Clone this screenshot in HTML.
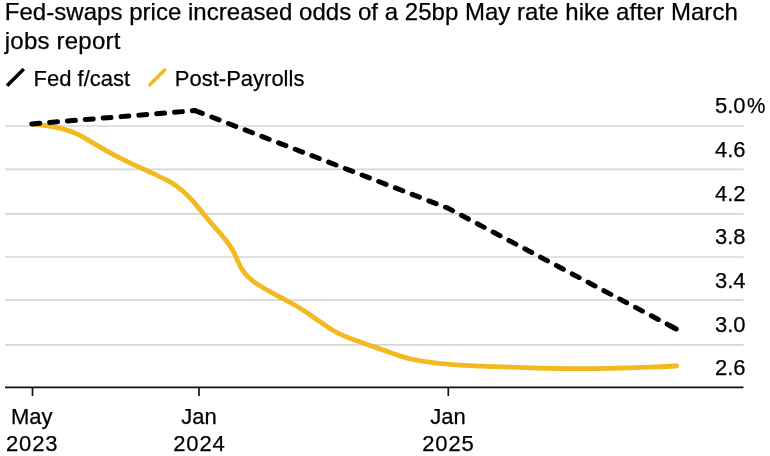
<!DOCTYPE html>
<html><head><meta charset="utf-8">
<style>
html,body{margin:0;padding:0;background:#fff;}
body{width:770px;height:456px;overflow:hidden;position:relative;font-family:"Liberation Sans",Arial,sans-serif;color:#000;}
.t{position:absolute;white-space:nowrap;line-height:1;-webkit-text-stroke:0.25px #000;}
#title1,#title2{left:4.8px;font-size:24px;letter-spacing:0.03px;}
#title1{top:0.1px;}
#title2{top:29.4px;letter-spacing:0.22px;}
.lg{font-size:22px;top:67.5px;}
.yl{font-size:22px;right:24.5px;}
.pc{position:absolute;left:100%;top:0;margin-left:1.6px;transform:scaleX(0.94);transform-origin:0 50%;}
.xl{font-size:22px;text-align:center;width:100px;line-height:26.7px;}
.yr{letter-spacing:0.9px;margin-right:-0.9px;}
svg{position:absolute;left:0;top:0;}
</style></head><body>
<svg width="770" height="456" viewBox="0 0 770 456">
<g stroke="#d6d6d6" stroke-width="1.7" fill="none">
<line x1="5" x2="743.5" y1="126" y2="126"/>
<line x1="5" x2="743.5" y1="169.3" y2="169.3"/>
<line x1="5" x2="743.5" y1="213.8" y2="213.8"/>
<line x1="5" x2="743.5" y1="257" y2="257"/>
<line x1="5" x2="743.5" y1="300.2" y2="300.2"/>
<line x1="5" x2="743.5" y1="344.8" y2="344.8"/>
</g>
<g stroke="#111" stroke-width="1.7" fill="none">
<line x1="5" x2="743.5" y1="387.3" y2="387.3"/>
<line x1="32.5" x2="32.5" y1="387" y2="396"/>
<line x1="199" x2="199" y1="387" y2="396"/>
<line x1="448.3" x2="448.3" y1="387" y2="396"/>
</g>
<path fill="none" stroke="#f3b920" stroke-width="4.8" stroke-linecap="round" stroke-linejoin="round" d="M31.8,124.2 C33.8,124.4 39.8,124.9 43.8,125.4 C47.9,125.9 52.2,126.5 56.0,127.3 C59.9,128.1 63.8,129.1 67.0,130.1 C70.3,131.1 73.1,132.2 75.7,133.4 C78.3,134.5 80.4,135.7 82.6,136.9 C84.9,138.1 87.0,139.4 89.2,140.7 C91.4,142.0 93.6,143.3 95.8,144.6 C98.0,145.9 100.2,147.2 102.4,148.4 C104.6,149.7 106.7,150.9 108.9,152.1 C111.2,153.3 113.3,154.5 115.8,155.8 C118.3,157.1 120.8,158.4 123.9,159.9 C127.0,161.5 130.5,163.2 134.2,164.9 C137.9,166.6 142.3,168.6 146.0,170.3 C149.8,172.1 153.8,173.8 157.0,175.3 C160.3,176.9 163.1,178.2 165.7,179.5 C168.3,180.9 170.4,182.0 172.6,183.5 C174.9,184.9 177.0,186.4 179.2,188.1 C181.4,189.8 183.6,191.7 185.7,193.7 C187.9,195.7 190.0,197.9 192.0,200.1 C194.0,202.3 195.9,204.5 197.8,206.9 C199.8,209.2 201.6,211.6 203.6,214.1 C205.6,216.5 207.7,219.0 209.8,221.5 C211.9,224.0 214.2,226.5 216.3,228.9 C218.5,231.4 220.7,233.9 222.7,236.3 C224.7,238.8 226.7,241.2 228.4,243.6 C230.1,245.9 231.4,248.1 232.7,250.2 C233.9,252.4 234.8,254.4 235.8,256.6 C236.8,258.8 237.7,261.0 238.8,263.2 C239.8,265.4 241.0,267.8 242.4,269.9 C243.8,272.0 245.4,274.1 247.1,275.9 C248.9,277.8 251.0,279.5 253.0,281.1 C255.1,282.7 257.3,284.2 259.5,285.5 C261.7,286.9 263.9,288.2 266.1,289.5 C268.3,290.7 270.4,291.9 272.6,293.1 C274.8,294.3 277.0,295.5 279.2,296.7 C281.4,297.9 283.6,299.0 285.8,300.2 C288.0,301.4 290.2,302.5 292.4,303.8 C294.7,305.0 297.0,306.3 299.3,307.7 C301.6,309.2 304.0,310.7 306.3,312.2 C308.6,313.8 310.9,315.3 313.1,316.9 C315.3,318.4 317.5,319.9 319.7,321.5 C321.9,323.0 324.1,324.6 326.3,326.1 C328.5,327.5 330.7,329.0 332.9,330.3 C335.1,331.6 337.3,332.8 339.5,333.8 C341.7,334.9 343.9,335.8 346.1,336.7 C348.3,337.6 350.4,338.4 352.6,339.2 C354.8,340.1 357.0,340.8 359.2,341.6 C361.4,342.4 363.6,343.2 365.8,344.0 C368.0,344.7 370.2,345.5 372.4,346.3 C374.6,347.1 376.8,347.9 378.9,348.6 C381.1,349.4 383.3,350.2 385.4,350.9 C387.5,351.6 389.5,352.3 391.4,353.0 C393.4,353.6 395.3,354.3 397.3,354.9 C399.2,355.6 401.2,356.3 403.3,356.9 C405.4,357.6 407.6,358.2 410.1,358.8 C412.7,359.4 415.5,360.0 418.8,360.5 C422.1,361.1 425.9,361.7 429.9,362.2 C433.9,362.7 438.3,363.3 442.6,363.7 C446.9,364.1 451.3,364.5 455.8,364.8 C460.3,365.1 464.5,365.4 469.8,365.6 C475.0,365.9 480.5,366.1 487.2,366.4 C494.0,366.7 501.8,366.9 510.2,367.2 C518.5,367.5 528.0,367.8 537.3,368.1 C546.5,368.3 556.2,368.5 565.7,368.6 C575.2,368.7 584.8,368.7 594.3,368.6 C603.8,368.5 613.3,368.3 622.6,368.0 C632.0,367.8 641.1,367.4 650.1,367.1 C659.1,366.8 672.1,366.2 676.5,366.0"/>
<path fill="none" stroke="#000" stroke-width="5" stroke-linecap="round" stroke-linejoin="round" stroke-dasharray="7.9 10" d="M31.8,123.9 L195,110.6"/>
<path fill="none" stroke="#000" stroke-width="5" stroke-linecap="round" stroke-linejoin="round" stroke-dasharray="7.9 10" d="M195,110.6 L448,208.2 L676.3,329"/>
<path fill="none" stroke="#000" stroke-width="5" stroke-linecap="round" d="M670,325.7 L676.2,329"/>
<line x1="7.0" y1="85.7" x2="23.8" y2="69.0" stroke="#000" stroke-width="3.5"/>
<line x1="148.8" y1="85.7" x2="165.6" y2="69.0" stroke="#f3b920" stroke-width="3.5"/>
</svg>
<div class="t" id="title1">Fed-swaps price increased odds of a 25bp May rate hike after March</div>
<div class="t" id="title2">jobs report</div>
<div class="t lg" style="left:33.5px">Fed f/cast</div>
<div class="t lg" style="left:174.8px">Post-Payrolls</div>
<div class="t yl" style="top:95.4px">5.0<span class="pc">%</span></div>
<div class="t yl" style="top:138.7px">4.6</div>
<div class="t yl" style="top:183.2px">4.2</div>
<div class="t yl" style="top:226.4px">3.8</div>
<div class="t yl" style="top:269.6px">3.4</div>
<div class="t yl" style="top:314.2px">3.0</div>
<div class="t yl" style="top:356.7px">2.6</div>
<div class="t xl" style="left:-18.3px;top:403.8px">May<br><span class="yr">2023</span></div>
<div class="t xl" style="left:149px;top:403.8px">Jan<br><span class="yr">2024</span></div>
<div class="t xl" style="left:398px;top:403.8px">Jan<br><span class="yr">2025</span></div>
</body></html>
